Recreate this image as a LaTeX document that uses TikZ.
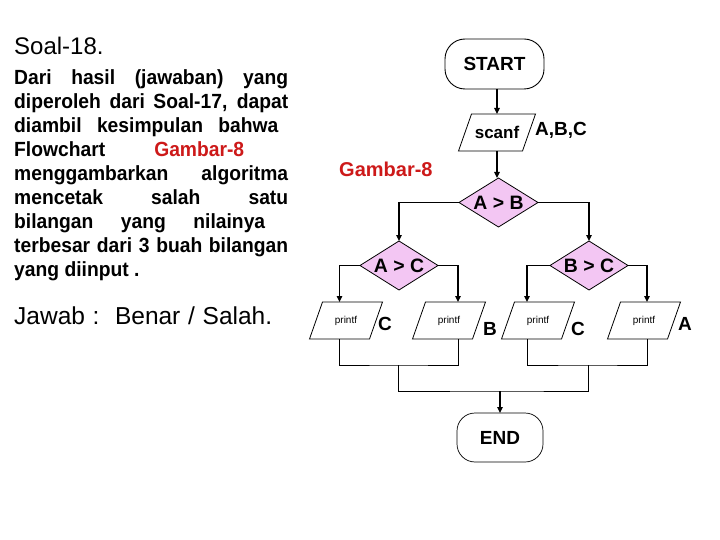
\documentclass[tikz,border=0pt]{standalone}
\usepackage{fontspec}
\setmainfont{Liberation Sans}
\usetikzlibrary{shapes.geometric,arrows.meta}
\definecolor{gred}{RGB}{205,25,25}
\definecolor{dpink}{RGB}{243,198,243}
\newcommand\myfs[1]{\fontsize{#1}{#1}\selectfont}
\newcommand\iopara[2]{% #1 node name, #2 half slant
  \draw[line width=0.8pt] ([xshift=#2]#1.north west) -- ([xshift=#2]#1.north east)
    -- ([xshift=-#2]#1.south east) -- ([xshift=-#2]#1.south west) -- cycle;}
\begin{document}
\begin{tikzpicture}[x=1pt,y=-1pt,
  arr/.style={line width=1.4pt,-{Triangle[length=6pt,width=5.5pt]}},
  thinln/.style={line width=0.9pt},
  term/.style={draw,line width=0.9pt,rounded corners=20pt,minimum width=99pt,minimum height=50pt,inner sep=0pt,outer sep=0pt,font=\myfs{19}\bfseries},
  dec/.style={diamond,aspect=1.6,draw,fill=dpink,line width=0.8pt,minimum width=79pt,minimum height=49pt,inner sep=0pt,outer sep=0pt,font=\myfs{19.4}\bfseries},
  iobox/.style={minimum width=60pt,minimum height=37pt,inner sep=0pt,outer sep=0pt,font=\myfs{10}},
  lbl/.style={anchor=base west,inner sep=0pt,font=\myfs{19}\bfseries},
]
\useasboundingbox[fill=white] (0,0) rectangle (720,540);

% left text
\node[anchor=base west,inner sep=0pt,font=\myfs{24}] (title) at (14,55) {Soal-18.};
\node[anchor=base west,inner sep=0pt] (body) at (14,85) {\scalebox{0.94}[1]{\begin{minipage}[t]{291.5pt}%
\fontsize{20.5}{24}\selectfont\bfseries\setlength{\parindent}{0pt}\setlength{\parskip}{0pt}%
\makebox[291.5pt][s]{Dari hasil (jawaban) yang}\par
\makebox[291.5pt][s]{diperoleh dari Soal-17, dapat}\par
\makebox[281pt][s]{diambil kesimpulan bahwa}\par
\makebox[149pt][l]{Flowchart}\textcolor{gred}{Gambar-8}\par
\makebox[291.5pt][s]{menggambarkan algoritma}\par
\makebox[291.5pt][s]{mencetak salah satu}\par
\makebox[267pt][s]{bilangan yang nilainya}\par
\makebox[291.5pt][s]{terbesar dari 3 buah bilangan}\par
yang diinput .\end{minipage}}};
\node[anchor=base west,inner sep=0pt,font=\myfs{24.5}] (ans) at (14,324) {\makebox[258pt][s]{Jawab :\ \ Benar / Salah.}};

% flowchart nodes
\node[term] (start) at (494.5,64) {START};
\node[iobox,minimum width=64pt,font=\myfs{17}\bfseries] (sc) at (497,132.5) {scanf};
\iopara{sc}{6.5pt}
\node[lbl] (abc) at (535,136) {A,B,C};
\node[lbl,text=gred,font=\myfs{20}\bfseries] (gb) at (339,177) {Gambar-8};

\node[dec] (d1) at (498.5,202.5) {A > B};
\node[dec,minimum width=78pt] (d2) at (399,265.5) {A > C};
\node[dec,minimum width=78pt] (d3) at (589,265.5) {B > C};

\node[iobox] (p1) at (346,320.5) {printf};
\node[iobox] (p2) at (449,320.5) {printf};
\node[iobox] (p3) at (538,320.5) {printf};
\node[iobox] (p4) at (644,320.5) {printf};
\iopara{p1}{6.5pt}
\iopara{p2}{6.5pt}
\iopara{p3}{6.5pt}
\iopara{p4}{6.5pt}
\node[lbl] (l1) at (378,330) {C};
\node[lbl] (l2) at (483,335) {B};
\node[lbl] (l3) at (571,335) {C};
\node[lbl] (l4) at (678,330) {A};

\node[term,minimum width=86pt,minimum height=49pt,rounded corners=18pt,line width=0.7pt] (fin) at (500,437.5) {END};

% column coordinates
\coordinate (c1) at (339.5,0);
\coordinate (c2) at (458,0);
\coordinate (c3) at (527,0);
\coordinate (c4) at (647,0);
\coordinate (m1) at (398.5,365);
\coordinate (m2) at (588,365);
\coordinate (j) at (500,391);

% connectors
\draw[arr] (start.south -| sc.north) -- (sc.north);
\draw[arr] (sc.south) -- (sc.south |- d1.north);
\draw[arr] (d1.west) -| (d2.north);
\draw[arr] (d1.east) -| (d3.north);
\draw[arr] (d2.west) -| (p1.north -| c1);
\draw[arr] (d2.east) -| (p2.north -| c2);
\draw[arr] (d3.west) -| (p3.north -| c3);
\draw[arr] (d3.east) -| (p4.north -| c4);
\draw[thinln] (p1.south -| c1) |- (m1) -| (p2.south -| c2);
\draw[thinln] (p3.south -| c3) |- (m2) -| (p4.south -| c4);
\draw[thinln] (m1) |- (j) -| (m2);
\draw[arr] (j) -- (fin.north);
\end{tikzpicture}
\end{document}
